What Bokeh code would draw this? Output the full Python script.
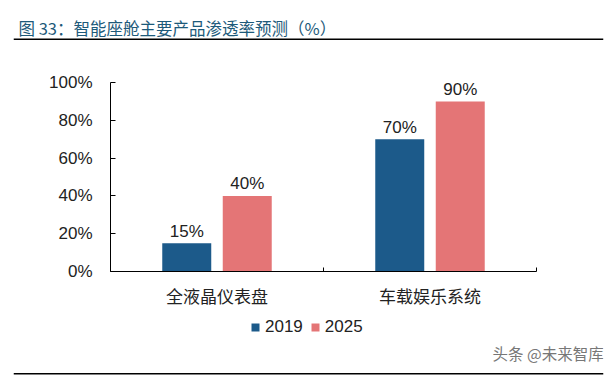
from bokeh.plotting import figure
from bokeh.layouts import column, row
from bokeh.models import (ColumnDataSource, Range1d, Label, BoxAnnotation,
                          Legend, LegendItem, PrintfTickFormatter, FixedTicker)
from bokeh.core.properties import value
from bokeh.embed import file_html
from bokeh.resources import INLINE

categories = ['全液晶仪表盘', '车载娱乐系统']
series_names = ['2019', '2025']
values_2019 = [15, 70]
values_2025 = [40, 90]
y_ticks = [0, 20, 40, 60, 80, 100]
title_text = '图 33：智能座舱主要产品渗透率预测（%）'
watermark_text = '头条 @未来智库'

colors = ['#1C5A8A', '#E47576']
LAT = '"Liberation Sans", "Noto Sans CJK SC"'
CJK = '"Noto Sans CJK SC"'
TXT = '#222222'

centers = [i + 0.5 for i in range(len(categories))]
bounds = [float(i) for i in range(len(categories) + 1)]
off = 0.142
w = 0.23

src = ColumnDataSource(dict(
    xc=centers,
    x1=[c - off for c in centers],
    x2=[c + off for c in centers],
    v2019=values_2019,
    v2025=values_2025,
    l2019=[f'{v}%' for v in values_2019],
    l2025=[f'{v}%' for v in values_2025],
))

# ---------- header ----------
hdr = figure(width=614, height=42, x_range=(0, 1), y_range=(0, 1),
             x_axis_type=None, y_axis_type=None, output_backend='svg',
             toolbar_location=None, min_border_left=13, min_border_right=11,
             min_border_top=0, min_border_bottom=2)
hdr.outline_line_color = None
hdr.grid.grid_line_color = None
hdr.add_layout(Label(x=5, y=13, x_units='screen', y_units='screen', text=title_text,
                     text_font=CJK, text_font_size='16.5px', text_font_style='normal',
                     text_color='#1D5A7A', text_baseline='alphabetic'))
hdr.add_layout(BoxAnnotation(left=0, right=590, bottom=0.5, top=2,
                             left_units='screen', right_units='screen',
                             top_units='screen', bottom_units='screen',
                             fill_color='black', fill_alpha=1, line_color=None))

# ---------- main chart ----------
p = figure(x_range=Range1d(bounds[0], bounds[-1]), y_range=Range1d(0, 100),
           width=614, height=273, output_backend='svg', toolbar_location=None,
           min_border_left=110, min_border_right=78, min_border_top=40,
           min_border_bottom=44)
p.outline_line_color = None
p.grid.grid_line_color = None

p.vbar(x='x1', top='v2019', width=w, source=src, fill_color=colors[0], line_color=None)
p.vbar(x='x2', top='v2025', width=w, source=src, fill_color=colors[1], line_color=None)

for xc, col in [('x1', '2019'), ('x2', '2025')]:
    p.text(x=xc, y='v' + col, text='l' + col, source=src,
           text_align='center', text_baseline='alphabetic', y_offset=-12,
           text_font_size='17px', text_color=TXT, text_font=value(LAT))

p.yaxis.ticker = FixedTicker(ticks=y_ticks)
p.yaxis.formatter = PrintfTickFormatter(format='%d%%')
p.yaxis.major_tick_in = 5
p.yaxis.major_tick_out = 0
p.yaxis.minor_tick_line_color = None
p.yaxis.major_label_standoff = 18
p.yaxis.major_label_text_font_size = '17px'
p.yaxis.major_label_text_font = LAT
p.yaxis.major_label_text_color = TXT
p.yaxis.axis_line_color = 'black'
p.yaxis.major_tick_line_color = 'black'

p.xaxis.ticker = FixedTicker(ticks=centers, minor_ticks=bounds)
p.xaxis.major_label_overrides = {c: n for c, n in zip(centers, categories)}
p.xaxis.major_tick_in = 0
p.xaxis.major_tick_out = 0
p.xaxis.minor_tick_in = 4
p.xaxis.minor_tick_out = 0
p.xaxis.minor_tick_line_color = 'black'
p.xaxis.major_label_standoff = 11
p.xaxis.major_label_text_font_size = '17px'
p.xaxis.major_label_text_font = CJK
p.xaxis.major_label_text_color = TXT
p.xaxis.axis_line_color = 'black'

# ---------- footer (legend, watermark, rule) ----------
ftr = figure(width=614, height=61, x_range=(0, 1), y_range=(0, 1),
             x_axis_type=None, y_axis_type=None, output_backend='svg',
             toolbar_location=None, min_border_left=13, min_border_right=11,
             min_border_top=0, min_border_bottom=1)
ftr.outline_line_color = None
ftr.grid.grid_line_color = None
proxy = ColumnDataSource(dict(x=[-5], top=[0]))
g1 = ftr.vbar(x='x', top='top', width=0.1, source=proxy, fill_color=colors[0], line_color=None)
g2 = ftr.vbar(x='x', top='top', width=0.1, source=proxy, fill_color=colors[1], line_color=None)
legend = Legend(items=[LegendItem(label=series_names[0], renderers=[g1]),
                       LegendItem(label=series_names[1], renderers=[g2])],
                orientation='horizontal', location=(237, 38),
                glyph_width=10, glyph_height=10, label_text_font_size='17px',
                label_text_font=LAT, label_text_color=TXT, label_standoff=5,
                spacing=7, padding=0, margin=0, border_line_color=None,
                background_fill_alpha=0)
ftr.add_layout(legend)
ftr.add_layout(Label(x=479, y=23, x_units='screen', y_units='screen', text=watermark_text,
                     text_font=CJK, text_font_size='15.5px', text_color='#777777',
                     text_baseline='alphabetic'))
ftr.add_layout(BoxAnnotation(left=0, right=590, bottom=1, top=2.5,
                             left_units='screen', right_units='screen',
                             top_units='screen', bottom_units='screen',
                             fill_color='black', fill_alpha=1, line_color=None))

layout = column(row(hdr), row(p), row(ftr), spacing=0)
open('out.html', 'w').write(file_html(layout, INLINE))
